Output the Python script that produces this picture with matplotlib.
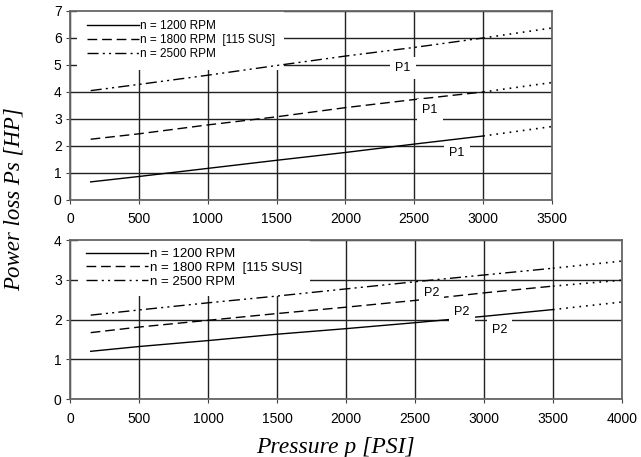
import matplotlib.pyplot as plt

# pressure points [PSI]
p_top = [150, 500, 1000, 1500, 2000, 2500, 3000]
p_top_ext = [3000, 3500]
p_bot = [150, 500, 1000, 1500, 2000, 2500, 3000, 3500]
p_bot_ext = [3500, 4000]

# power loss Ps [HP], upper chart (P1)
ps1_1200 = [0.67, 0.87, 1.17, 1.47, 1.76, 2.07, 2.37]
ps1_1200_ext = [2.37, 2.72]
ps1_1800 = [2.25, 2.45, 2.78, 3.08, 3.42, 3.72, 4.0]
ps1_1800_ext = [4.0, 4.35]
ps1_2500 = [4.05, 4.28, 4.62, 4.98, 5.33, 5.65, 6.0]
ps1_2500_ext = [6.0, 6.37]

# power loss Ps [HP], lower chart (P2)
ps2_1200 = [1.2, 1.32, 1.47, 1.63, 1.77, 1.92, 2.08, 2.25]
ps2_1200_ext = [2.25, 2.44]
ps2_1800 = [1.67, 1.81, 1.98, 2.15, 2.31, 2.48, 2.67, 2.84]
ps2_1800_ext = [2.84, 2.99]
ps2_2500 = [2.11, 2.24, 2.42, 2.59, 2.77, 2.95, 3.12, 3.29]
ps2_2500_ext = [3.29, 3.47]

labels = ['n = 1200 RPM', 'n = 1800 RPM  [115 SUS]', 'n = 2500 RPM']
p1_labels = [(2418, 4.89), (2614, 3.33), (2810, 1.74)]
p2_labels = [(2623, 2.67), (2841, 2.19), (3116, 1.74)]

sans = 'Liberation Sans'
serif = 'Liberation Serif'
plt.rcParams['font.family'] = sans

fig = plt.figure(figsize=(6.41, 4.57), dpi=100)
ax1 = fig.add_axes([0.1092, 0.5624, 0.752, 0.4136])
ax2 = fig.add_axes([0.1092, 0.1269, 0.861, 0.3479])

styles = ['-', (0, (7, 3.5)), (0, (8, 3, 1.5, 3, 1.5, 3))]


def setup(ax, xmax, ymax):
    ax.set_xlim(0, xmax)
    ax.set_ylim(0, ymax)
    ax.set_xticks(range(0, xmax + 1, 500))
    ax.set_yticks(range(0, ymax + 1))
    ax.grid(True, color='#222222', lw=1.0)
    ax.set_axisbelow(True)
    for s in ax.spines.values():
        s.set_color('#666666')
        s.set_linewidth(1.3)
    ax.tick_params(axis='x', direction='out', length=3, pad=6,
                   labelsize=10, color='#444444')
    ax.tick_params(axis='y', direction='out', length=3, pad=3,
                   labelsize=10, color='#444444')


setup(ax1, 3500, 7)
setup(ax2, 4000, 4)

# upper chart
lines = []
for vals, ext, ls in zip([ps1_1200, ps1_1800, ps1_2500],
                         [ps1_1200_ext, ps1_1800_ext, ps1_2500_ext], styles):
    ln, = ax1.plot(p_top, vals, color='black', lw=1.0, linestyle=ls)
    ax1.plot(p_top_ext, ext, color='black', lw=1.2, linestyle=(0, (1, 3)))
    lines.append(ln)
for x, y in p1_labels:
    ax1.text(x, y, 'P1', ha='center', va='center', fontsize=9, zorder=5,
             bbox=dict(facecolor='white', edgecolor='none', pad=3.5))
leg = ax1.legend(lines, labels, loc='upper left', bbox_to_anchor=(0.015, 1.0),
                 borderaxespad=0, fontsize=8.5, handlelength=4.4,
                 handletextpad=0.1, labelspacing=0.16, borderpad=0.8,
                 frameon=True, fancybox=False, framealpha=1,
                 facecolor='white', edgecolor='none')
leg.set_zorder(1)

# lower chart
lines = []
for vals, ext, ls in zip([ps2_1200, ps2_1800, ps2_2500],
                         [ps2_1200_ext, ps2_1800_ext, ps2_2500_ext], styles):
    ln, = ax2.plot(p_bot, vals, color='black', lw=1.0, linestyle=ls)
    ax2.plot(p_bot_ext, ext, color='black', lw=1.2, linestyle=(0, (1, 3)))
    lines.append(ln)
for x, y in p2_labels:
    ax2.text(x, y, 'P2', ha='center', va='center', fontsize=9, zorder=5,
             bbox=dict(facecolor='white', edgecolor='none', pad=3.5))
leg = ax2.legend(lines, labels, loc='upper left', bbox_to_anchor=(0.015, 1.0),
                 borderaxespad=0, fontsize=9.5, handlelength=4.7,
                 handletextpad=0.1, labelspacing=0.12, borderpad=0.6,
                 frameon=True, fancybox=False, framealpha=1,
                 facecolor='white', edgecolor='none')
leg.set_zorder(1)

fig.text(0.022, 0.565, 'Power loss Ps [HP]', rotation=90, ha='center',
         va='center', family=serif, style='italic', fontsize=16.5)
fig.text(0.523, 0.02, 'Pressure p [PSI]', ha='center', va='center',
         family=serif, style='italic', fontsize=17)

fig.savefig('out.png', dpi=100)
